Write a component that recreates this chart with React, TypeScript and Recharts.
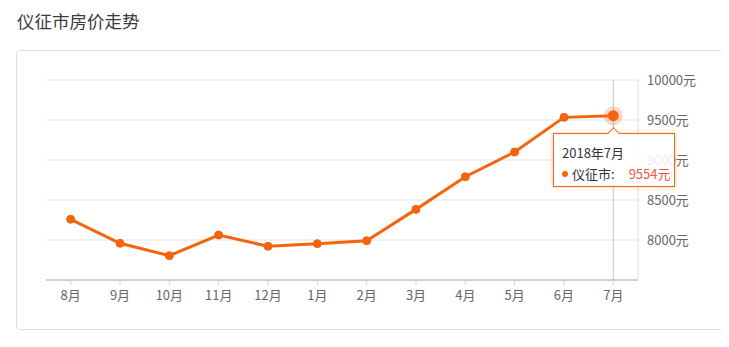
import { LineChart, Line, XAxis, YAxis, CartesianGrid, Tooltip } from "recharts";

const months = ["8月", "9月", "10月", "11月", "12月", "1月", "2月", "3月", "4月", "5月", "6月", "7月"];
const years = [2017, 2017, 2017, 2017, 2017, 2018, 2018, 2018, 2018, 2018, 2018, 2018];
const prices = [8259, 7959, 7804, 8062, 7921, 7954, 7991, 8383, 8791, 9100, 9533, 9554];
const yTicks = [8000, 8500, 9000, 9500, 10000];

const data = months.map((m, i) => ({ month: m, year: years[i], price: prices[i] }));

const orange = "#f4640f";
const font = '"Noto Sans CJK SC", "Noto Sans", sans-serif';
const axisText = { fill: "#666", fontSize: 13, fontFamily: font };

function TipBox({ active, payload }: any) {
  if (!active || !payload || !payload.length) return null;
  const row = payload[0].payload;
  return (
    <div
      style={{
        position: "relative",
        width: 122,
        height: 54,
        boxSizing: "border-box",
        background: "rgba(255,255,255,0.88)",
        border: `1px solid ${orange}`,
        boxShadow: "0 0 4px rgba(244,100,15,0.3)",
        padding: "8px 0 0 8px",
        fontFamily: font,
        fontSize: 13,
        color: "#333",
        lineHeight: "21px",
      }}
    >
      <div
        style={{
          position: "absolute",
          left: 55,
          top: -5,
          width: 8,
          height: 8,
          background: "#fff",
          borderTop: `1px solid ${orange}`,
          borderLeft: `1px solid ${orange}`,
          transform: "rotate(45deg)",
        }}
      />
      <div>{`${row.year}年${row.month}`}</div>
      <div style={{ display: "flex", alignItems: "center" }}>
        <span
          style={{ display: "inline-block", width: 6, height: 6, borderRadius: 3, background: orange, marginRight: 4 }}
        />
        <span>仪征市:</span>
        <span style={{ color: "#f0553a", marginLeft: 14 }}>{`${row.price}元`}</span>
      </div>
    </div>
  );
}

function ActiveDot(props: any) {
  const { cx, cy } = props;
  return (
    <g>
      <circle cx={cx} cy={cy} r={9.5} fill={orange} fillOpacity={0.25} />
      <circle cx={cx} cy={cy} r={5.5} fill={orange} />
    </g>
  );
}

export default function App() {
  return (
    <div style={{ position: "relative", margin: -8, width: 729, height: 347, overflow: "hidden", background: "#fff" }}>
      <div
        style={{
          position: "absolute",
          left: 17,
          top: 9,
          fontSize: 17.5,
          color: "#3a3a3a",
          fontFamily: font,
          lineHeight: "24px",
        }}
      >
        仪征市房价走势
      </div>
      <div
        style={{
          position: "absolute",
          left: 16,
          top: 50,
          width: 760,
          height: 280,
          border: "1px solid #ddd",
          borderRadius: 4,
          boxSizing: "border-box",
        }}
      />
      <div style={{ position: "absolute", left: 0, top: 0 }}>
        <LineChart width={729} height={347} data={data} margin={{ top: 80, right: 0, left: 46, bottom: 37 }}>
          <CartesianGrid stroke="#e3e3e3" vertical={false} />
          <XAxis
            dataKey="month"
            padding={{ left: 24.7, right: 24.7 }}
            axisLine={{ stroke: "#d0d0d0", strokeWidth: 2 }}
            tickLine={{ stroke: "#d0d0d0" }}
            tickSize={5}
            tickMargin={6}
            tick={axisText}
            height={30}
            interval={0}
          />
          <YAxis
            orientation="right"
            domain={[7500, 10000]}
            ticks={yTicks}
            tickFormatter={(v) => `${v}元`}
            axisLine={{ stroke: "#ddd" }}
            tickLine={false}
            tickSize={0}
            tickMargin={9}
            tick={{ ...axisText, textAnchor: "start" }}
            width={91}
          />
          <Tooltip
            defaultIndex={11}
            content={<TipBox />}
            position={{ x: 553, y: 133 }}
            cursor={{ stroke: "#c8c8c8", strokeWidth: 1 }}
            isAnimationActive={false}
          />
          <Line
            type="linear"
            dataKey="price"
            stroke={orange}
            strokeWidth={3}
            dot={{ r: 4, fill: orange, stroke: orange, strokeWidth: 1 }}
            activeDot={<ActiveDot />}
            isAnimationActive={false}
          />
        </LineChart>
      </div>
    </div>
  );
}
